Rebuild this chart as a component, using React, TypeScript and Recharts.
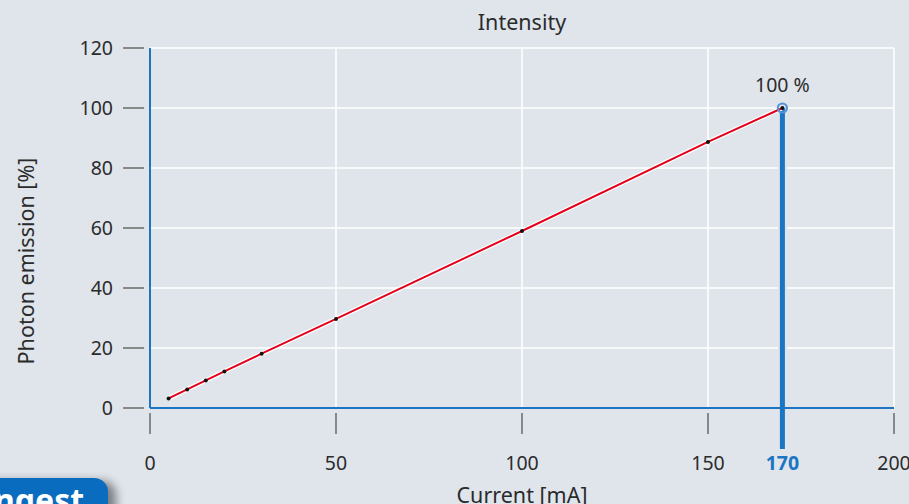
import React from 'react';
import {
  LineChart, Line, XAxis, YAxis, CartesianGrid, ReferenceLine, ReferenceDot, Label
} from 'recharts';

// measured points: current (mA) -> photon emission (%)
const currents = [5, 10, 15, 20, 30, 50, 100, 150, 170];
const emission = [3.2, 6.2, 9.2, 12.2, 18.1, 29.7, 59, 88.7, 100];
const xTicks = [0, 50, 100, 150, 170, 200];
const yTicks = [0, 20, 40, 60, 80, 100, 120];
const gridX = [50, 100, 150, 200];
const markCurrent = 170;
const markValue = 100;
const markLabel = '100 %';

const BG = '#dfe5eb';
const BLUE = '#1b75c3';
const TEXT = '#2b2b2b';
const FONT = '"Noto Sans", "Open Sans", sans-serif';

const data = currents.map((c, i) => ({ x: c, y: emission[i] }));

const XTick = (props: any) => {
  const { x, y, payload } = props;
  const hi = payload.value === markCurrent;
  return (
    <g>
      {!hi && <line x1={x} x2={x} y1={y + 5} y2={y + 26} stroke="#555" strokeWidth={1.3} />}
      <text x={x} y={y + 62} textAnchor="middle" fontSize={19.5} fontFamily={FONT}
        fill={hi ? BLUE : TEXT} fontWeight={hi ? 700 : 400}>
        {payload.value}
      </text>
    </g>
  );
};

const YTick = (props: any) => {
  const { x, y, payload } = props;
  return (
    <g>
      <line x1={x - 27} x2={x - 6} y1={y} y2={y} stroke="#555" strokeWidth={1.3} />
      <text x={x - 37} y={y + 7} textAnchor="end" fontSize={19.5} fontFamily={FONT} fill={TEXT}>
        {payload.value}
      </text>
    </g>
  );
};

export default function App() {
  return (
    <div style={{ position: 'absolute', left: 0, top: 0, width: 909, height: 504, background: BG, overflow: 'hidden', fontFamily: FONT }}>
      <div style={{ position: 'absolute', left: 150, width: 744, top: 11, lineHeight: '21.5px', textAlign: 'center', fontSize: 21.5, color: TEXT }}>
        Intensity
      </div>
      <LineChart width={909} height={504} data={data} margin={{ top: 48, right: 15, bottom: 36, left: 0 }}>
        <CartesianGrid stroke="#ffffff" strokeWidth={1.5} verticalValues={gridX} horizontalValues={yTicks} />
        <XAxis type="number" dataKey="x" domain={[0, 200]} ticks={xTicks} interval={0} height={60}
          axisLine={{ stroke: BLUE, strokeWidth: 2 }} tickLine={false} tickSize={0} tickMargin={0} tick={<XTick />}>
          <Label content={(p: any) => {
            const vb = p.viewBox;
            return (
              <text x={vb.x + vb.width / 2} y={503} textAnchor="middle" fontSize={21.5} fontFamily={FONT} fill={TEXT}>
                Current [mA]
              </text>
            );
          }} />
        </XAxis>
        <YAxis type="number" domain={[0, 120]} ticks={yTicks} interval={0} width={150}
          axisLine={{ stroke: BLUE, strokeWidth: 2 }} tickLine={false} tickSize={0} tickMargin={0} tick={<YTick />}>
          <Label content={(p: any) => {
            const vb = p.viewBox;
            const cy = vb.y + vb.height / 2 + 33;
            return (
              <text x={34} y={cy} transform={`rotate(-90 34 ${cy})`} textAnchor="middle" fontSize={21.5} fontFamily={FONT} fill={TEXT}>
                Photon emission [%]
              </text>
            );
          }} />
        </YAxis>
        <ReferenceLine segment={[{ x: markCurrent, y: markValue }, { x: markCurrent, y: -13.7 }]}
          stroke={BG} strokeWidth={9} ifOverflow="visible" />
        <ReferenceLine segment={[{ x: markCurrent, y: markValue }, { x: markCurrent, y: -13.7 }]}
          stroke={BLUE} strokeWidth={5} ifOverflow="visible" />
        <Line type="linear" dataKey="y" stroke="#ffffff" strokeWidth={4.5} dot={false} activeDot={false} isAnimationActive={false} />
        <Line type="linear" dataKey="y" stroke="#e3001b" strokeWidth={2} activeDot={false}
          dot={{ r: 2, fill: '#111', stroke: 'none' }} isAnimationActive={false} />
        <ReferenceDot x={markCurrent} y={markValue} r={4.5} fill="none" stroke="#4f95d8" strokeWidth={2.2}>
          <Label value={markLabel} position="top" offset={12} fontSize={19.5} fontFamily={FONT} fill={TEXT} />
        </ReferenceDot>
      </LineChart>
      <div style={{ position: 'absolute', left: -40, top: 478, width: 148, height: 44, borderRadius: 14, background: '#0a6cbf',
        boxShadow: '8px 3px 10px rgba(0,0,0,0.45)', color: '#fff', fontWeight: 700, fontSize: 32, lineHeight: '44px', paddingLeft: 34, boxSizing: 'border-box' }}>
        ngest
      </div>
    </div>
  );
}
